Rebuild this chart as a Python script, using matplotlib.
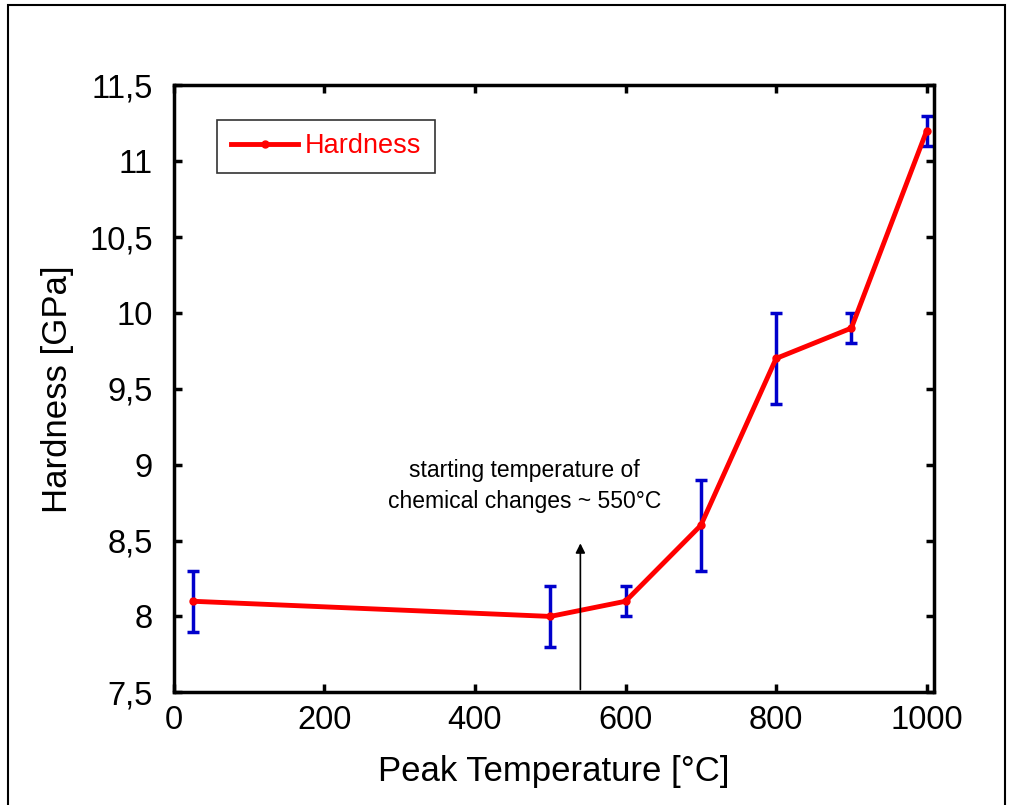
import matplotlib
matplotlib.use("Agg")
import matplotlib.pyplot as plt
from matplotlib.patches import Rectangle
from matplotlib.ticker import FuncFormatter

# donnees
temperature = [25, 500, 600, 700, 800, 900, 1000]   # °C
hardness = [8.1, 8.0, 8.1, 8.6, 9.7, 9.9, 11.2]     # GPa
hardness_err = [0.2, 0.2, 0.1, 0.3, 0.3, 0.1, 0.1]
x_ticks = [0, 200, 400, 600, 800, 1000]
y_ticks = [7.5, 8, 8.5, 9, 9.5, 10, 10.5, 11, 11.5]

plt.rcParams['font.family'] = ['Liberation Sans', 'DejaVu Sans']

fig = plt.figure(figsize=(10.11, 8.05), dpi=100)
ax = fig.add_axes([0.172, 0.14, 0.752, 0.754])

# cadre exterieur
fig.patches.append(Rectangle((0.008, -0.01), 0.986, 1.004, transform=fig.transFigure,
                             fill=False, edgecolor='black', linewidth=1.5))

ax.errorbar(temperature, hardness, yerr=hardness_err, fmt='none', ecolor='#0000cc',
            elinewidth=2.5, capsize=4.5, capthick=2.5, zorder=2)
ax.plot(temperature, hardness, color='red', linewidth=3.5, marker='o', markersize=5,
        markerfacecolor='red', label='Hardness', zorder=3)

ax.annotate('', xy=(540, 8.5), xytext=(540, 7.5),
            arrowprops=dict(arrowstyle='-|>', color='black', lw=1.2, mutation_scale=14))
ax.text(466, 8.68, 'starting temperature of\nchemical changes ~ 550°C',
        ha='center', va='bottom', fontsize=16.5, linespacing=1.45)

ax.set_xlim(0, 1010)
ax.set_ylim(7.5, 11.5)
ax.set_xticks(x_ticks)
ax.set_yticks(y_ticks)
ax.yaxis.set_major_formatter(FuncFormatter(lambda v, p: ('%g' % v).replace('.', ',')))
ax.tick_params(direction='in', top=True, right=True, length=6, width=2.5,
               labelsize=23.5)
ax.tick_params(axis='x', pad=9)
ax.tick_params(axis='y', pad=15)
for s in ax.spines.values():
    s.set_linewidth(2.5)

ax.set_xlabel('Peak Temperature [°C]', fontsize=25, labelpad=14)
ax.set_ylabel('Hardness [GPa]', fontsize=25, labelpad=11)

leg = ax.legend(loc='upper left', bbox_to_anchor=(0.057, 0.943), fontsize=19.5,
                labelcolor='red', frameon=True, fancybox=False, borderpad=0.5,
                handlelength=2.5, handletextpad=0.25, borderaxespad=0)
leg.get_frame().set_edgecolor('black')
leg.get_frame().set_linewidth(1.2)

fig.savefig('out.png', dpi=100)
